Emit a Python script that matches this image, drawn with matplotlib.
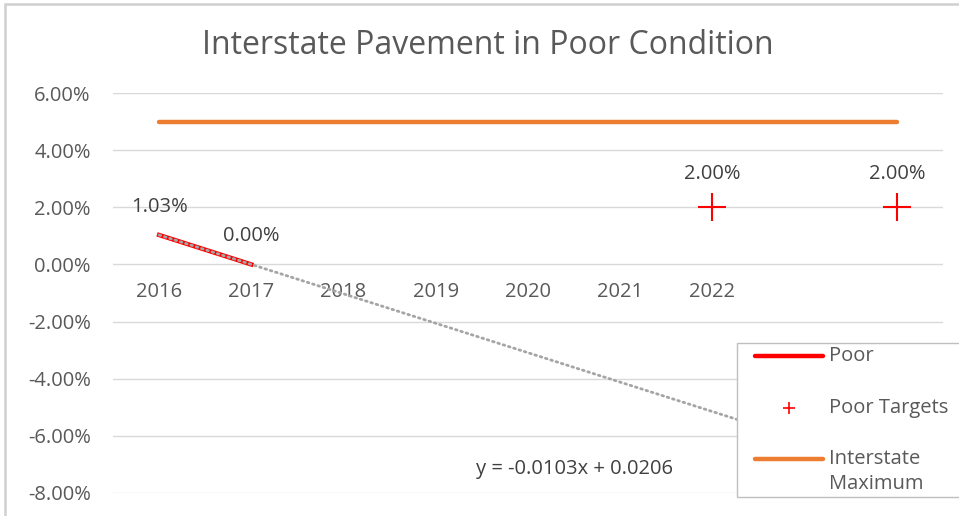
import numpy as np
import matplotlib
matplotlib.use("Agg")
import matplotlib.pyplot as plt
from matplotlib.patches import Rectangle
from matplotlib.lines import Line2D
from matplotlib.ticker import FuncFormatter

plt.rcParams['font.family'] = ['Open Sans', 'DejaVu Sans']

categories = ["2016", "2017", "2018", "2019", "2020", "2021", "2022", "", ""]
poor = [0.0103, 0.0000]
target_idx = [6, 8]
targets = [0.02, 0.02]
interstate_max = [0.05] * 9
yticks = [-0.08, -0.06, -0.04, -0.02, 0.0, 0.02, 0.04, 0.06]
legend_labels = ["Poor", "Poor Targets", "Interstate\nMaximum"]

FS = 14.5
TXT = "#595959"
W, H = 959, 516
fig = plt.figure(figsize=(W / 100, H / 100), dpi=100)
fig.patch.set_facecolor("white")


def fx(px):
    return px / W


def fy(py):
    return 1 - py / H


# outer chart frame (cropped at right/bottom)
fig.add_artist(Rectangle((fx(5), -0.1), 1.2, fy(4) + 0.1, transform=fig.transFigure,
                         fill=False, edgecolor="#d0d0d0", lw=1.8))

left, right = 113 / W, 943 / W
bottom, top = 1 - 493 / H, 1 - 93 / H
ax = fig.add_axes([left, bottom, right - left, top - bottom])
ax.set_xlim(-0.5, len(categories) - 0.5)
ax.set_ylim(yticks[0], yticks[-1])
for s in ax.spines.values():
    s.set_visible(False)
ax.set_yticks(yticks)
ax.yaxis.set_major_formatter(FuncFormatter(lambda v, p: f"{v*100:.2f}%"))
ax.tick_params(axis="y", length=0, pad=16, labelsize=FS, labelcolor=TXT)
ax.set_xticks([])
ax.grid(axis="y", color="#d9d9d9", lw=1.0)
ax.set_axisbelow(True)

x = np.arange(len(categories))
# category labels at the y=0 axis crossing
for xi, c in zip(x, categories):
    ax.annotate(c, (xi, 0), xytext=(0, -28), textcoords="offset pixels",
                ha="center", va="center", fontsize=FS, color=TXT)

# Interstate maximum
ax.plot(x, interstate_max, color="#ED7D31", lw=3.2, solid_capstyle="round", zorder=3)
# Poor
ax.plot(x[:len(poor)], poor, color="#FF0000", lw=3.2, zorder=3)
# Targets
ax.plot(target_idx, targets, ls="none", marker="+", ms=20, mew=1.5,
        color="#FF0000", zorder=4)

# linear trendline (Excel x = 1, 2, ...)
xs = np.arange(1, len(poor) + 1)
slope, intercept = np.polyfit(xs, poor, 1)
xt = np.arange(1, len(categories) + 1)
ax.plot(xt - 1, slope * xt + intercept, color="#A5A5A5", lw=2.0, ls=(0, (0.6, 1.4)),
        zorder=5, dash_capstyle="round")
ax.text(4.5, -0.0715, f"y = {slope:.4f}x + {intercept:.4f}".replace("+ -", "- "),
        ha="center", va="center", fontsize=FS, color="#404040")

# data labels
for xi, v in zip(x[:len(poor)], poor):
    ax.annotate(f"{v*100:.2f}%", (xi, v), xytext=(0, 28), textcoords="offset pixels",
                ha="center", va="center", fontsize=FS, color="#404040")
for xi, v in zip(target_idx, targets):
    ax.annotate(f"{v*100:.2f}%", (xi, v), xytext=(0, 33), textcoords="offset pixels",
                ha="center", va="center", fontsize=FS, color="#404040")

fig.text(fx(488), fy(45), "Interstate Pavement in Poor Condition", ha="center",
         va="center", fontsize=23, color=TXT)

# legend (drawn manually, Excel style)
fig.add_artist(Rectangle((fx(737), fy(497)), 0.5, fy(343) - fy(497),
                         transform=fig.transFigure, facecolor="white",
                         edgecolor="#bfbfbf", lw=1.0, zorder=10))
leg_y = [356, 408, 459]
fig.add_artist(Line2D([fx(755), fx(823)], [fy(leg_y[0])] * 2, color="#FF0000", lw=3.2,
                      solid_capstyle="round", zorder=11))
fig.add_artist(Line2D([fx(789)], [fy(leg_y[1])], ls="none", marker="+", ms=9, mew=1.2,
                      color="#FF0000", zorder=11))
fig.add_artist(Line2D([fx(755), fx(823)], [fy(leg_y[2])] * 2, color="#ED7D31", lw=3.2,
                      solid_capstyle="round", zorder=11))
for lbl, yy in zip(legend_labels, leg_y):
    for k, ln in enumerate(lbl.split("\n")):
        fig.text(fx(829), fy(yy + 25 * k), ln, ha="left", va="center",
                 fontsize=FS, color=TXT, zorder=12)

fig.savefig("out.png", dpi=100, facecolor="white")
